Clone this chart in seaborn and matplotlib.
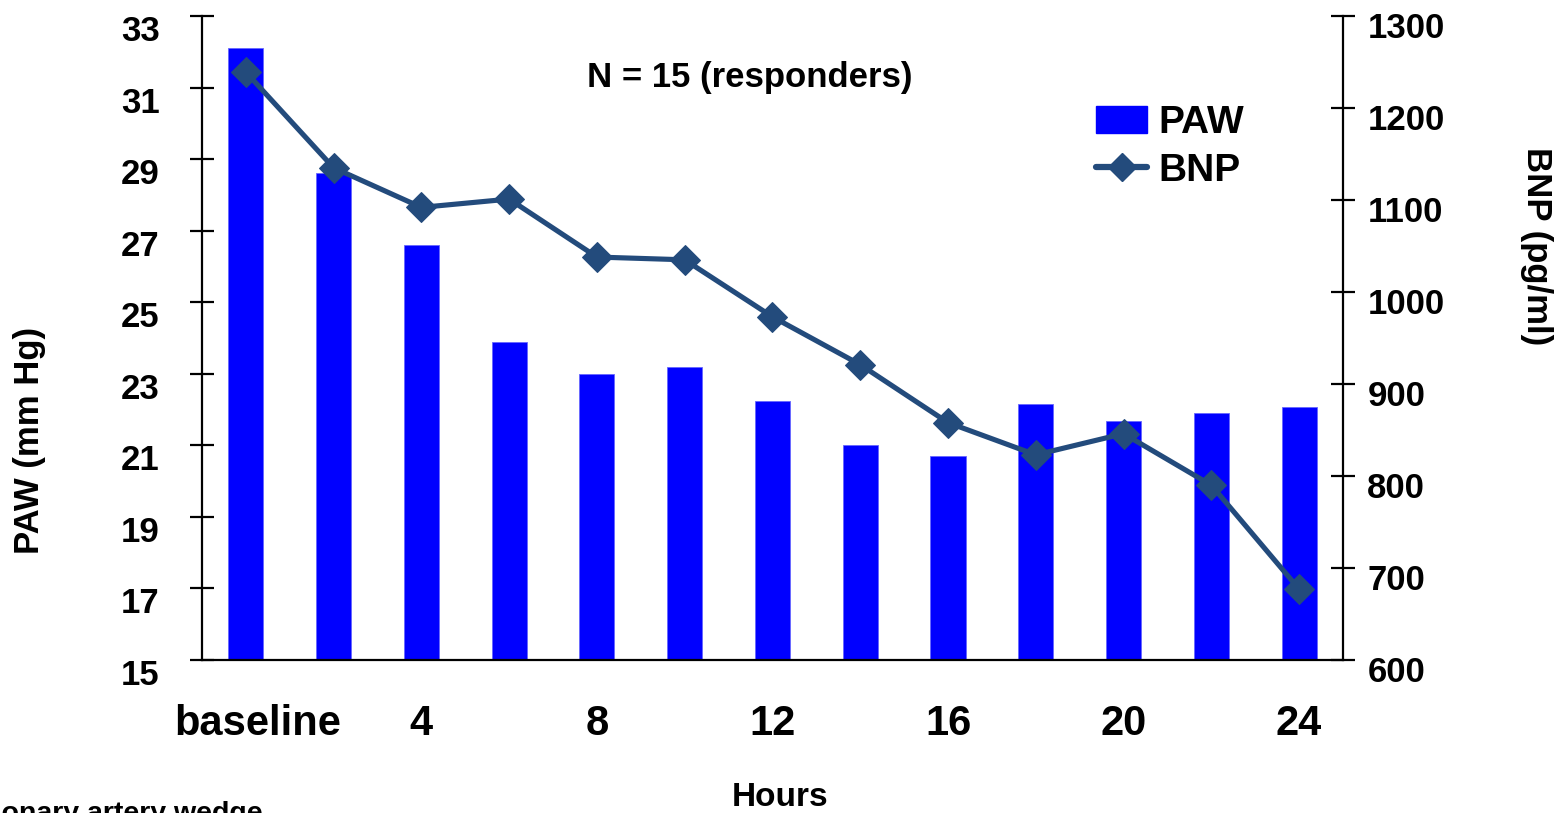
import matplotlib
matplotlib.use("Agg")
import matplotlib.pyplot as plt
import matplotlib.transforms as mtransforms
from matplotlib.patches import Patch
from matplotlib.lines import Line2D
import seaborn as sns
import pandas as pd

# ---- data ----
hours = ["baseline", "2", "4", "6", "8", "10", "12", "14", "16", "18", "20", "22", "24"]
tick_labels = ["baseline", "", "4", "", "8", "", "12", "", "16", "", "20", "", "24"]
paw = [32.1, 28.6, 26.6, 23.9, 23.0, 23.2, 22.24, 21.0, 20.7, 22.16, 21.68, 21.9, 22.07]
bnp = [1239, 1135, 1092, 1101, 1038, 1035, 973, 921, 858, 823, 846, 790, 677]
left_ticks = [15, 17, 19, 21, 23, 25, 27, 29, 31, 33]
right_ticks = [600, 700, 800, 900, 1000, 1100, 1200, 1300]

sns.set_style("white")
plt.rcParams["font.family"] = ["Liberation Sans", "DejaVu Sans"]
plt.rcParams["font.weight"] = "bold"
for k in ["text.color", "axes.labelcolor", "xtick.color", "ytick.color", "axes.edgecolor"]:
    plt.rcParams[k] = "black"

BAR_COLOR = "#0000FF"
LINE_COLOR = "#234B7C"

df = pd.DataFrame({"hour": hours, "paw": paw, "bnp": bnp, "pos": range(len(hours))})

fig = plt.figure(figsize=(15.62, 8.13), dpi=100)
ax = fig.add_axes([0.1293, 0.1882, 0.7305, 0.7921])

sns.barplot(data=df, x="hour", y="paw", order=hours, color=BAR_COLOR,
            width=0.4, saturation=1, ax=ax, edgecolor="#6666ff", linewidth=0.6)
ax.set_ylim(15, 33)
ax.set_xlim(-0.5, len(hours) - 0.5)
ax.set_yticks(left_ticks)
ax.set_yticklabels([str(t) for t in left_ticks])

ax2 = ax.twinx()
sns.lineplot(data=df, x="pos", y="bnp", color=LINE_COLOR, linewidth=3.7,
             marker="D", markersize=15, markeredgecolor=LINE_COLOR, ax=ax2)
ax2.set_ylim(600, 1300)
ax2.set_yticks(right_ticks)
ax2.set_yticklabels([str(t) for t in right_ticks])
ax2.set_xlim(-0.5, len(hours) - 0.5)

# x ticks: labels at centers (no marks), marks at category boundaries
ax.set_xticks(range(len(hours)))
ax.set_xticklabels(tick_labels, fontsize=30, fontweight="bold", color="black")
ax.set_xticks([i - 0.5 for i in range(len(hours) + 1)], minor=True)
ax.tick_params(axis="x", which="major", length=0, pad=32)
ax.tick_params(axis="x", which="minor", length=17, width=1.6, direction="inout",
               color="black")
ax.set_xlabel("")
ax.set_ylabel("")
ax2.set_xlabel("")
ax2.set_ylabel("")

ax.tick_params(axis="y", length=17, width=1.6, direction="inout", labelsize=25,
               pad=22, color="black", labelcolor="black")
ax2.tick_params(axis="y", length=17, width=1.6, direction="inout", labelsize=25,
                pad=9, color="black", labelcolor="black")
for lab in ax.get_yticklabels():
    lab.set_fontweight("bold")
for lab in ax2.get_yticklabels():
    lab.set_fontweight("bold")

# shift y tick labels down slightly (as in the reference)
off_l = mtransforms.ScaledTranslation(0, -12 / 100, fig.dpi_scale_trans)
off_r = mtransforms.ScaledTranslation(0, -9 / 100, fig.dpi_scale_trans)
for lab in ax.get_yticklabels():
    lab.set_transform(lab.get_transform() + off_l)
for lab in ax2.get_yticklabels():
    lab.set_transform(lab.get_transform() + off_r)
off_b = mtransforms.ScaledTranslation(12 / 100, 0, fig.dpi_scale_trans)
first = ax.get_xticklabels()[0]
first.set_transform(first.get_transform() + off_b)

for a in (ax, ax2):
    a.spines["top"].set_visible(False)
    for s in ["left", "right", "bottom"]:
        a.spines[s].set_linewidth(1.6)
        a.spines[s].set_color("black")
ax.spines["right"].set_visible(False)
ax2.spines["left"].set_visible(False)
ax2.spines["bottom"].set_visible(False)

# legend
handles = [Patch(facecolor=BAR_COLOR, edgecolor=BAR_COLOR),
           Line2D([], [], color=LINE_COLOR, linewidth=4.5, marker="D", markersize=14)]
fig.legend(handles, ["PAW", "BNP"], loc="upper left",
           bbox_to_anchor=(1077 / 1562, 1 - 86 / 813), frameon=False,
           prop={"size": 28, "weight": "bold"}, handlelength=1.3,
           handleheight=0.7, handletextpad=0.3, labelspacing=0.3, borderpad=0)

# texts
fig.text(750 / 1562, 1 - 78 / 813, "N = 15 (responders)", ha="center", va="center",
         fontsize=25, fontweight="bold")
fig.text(780 / 1562, 1 - 797 / 813, "Hours", ha="center", va="center",
         fontsize=24, fontweight="bold")
fig.text(30 / 1562, 1 - 440 / 813, "PAW (mm Hg)", ha="center", va="center",
         rotation=90, fontsize=25, fontweight="bold")
fig.text(1537 / 1562, 1 - 246 / 813, "BNP (pg/ml)", ha="center", va="center",
         rotation=-90, fontsize=25, fontweight="bold")
fig.text(263 / 1562, 1 - 821 / 813, "Pulmonary artery wedge", ha="right",
         va="baseline", fontsize=20.5, fontweight="bold")

fig.savefig("out.png", dpi=100)
